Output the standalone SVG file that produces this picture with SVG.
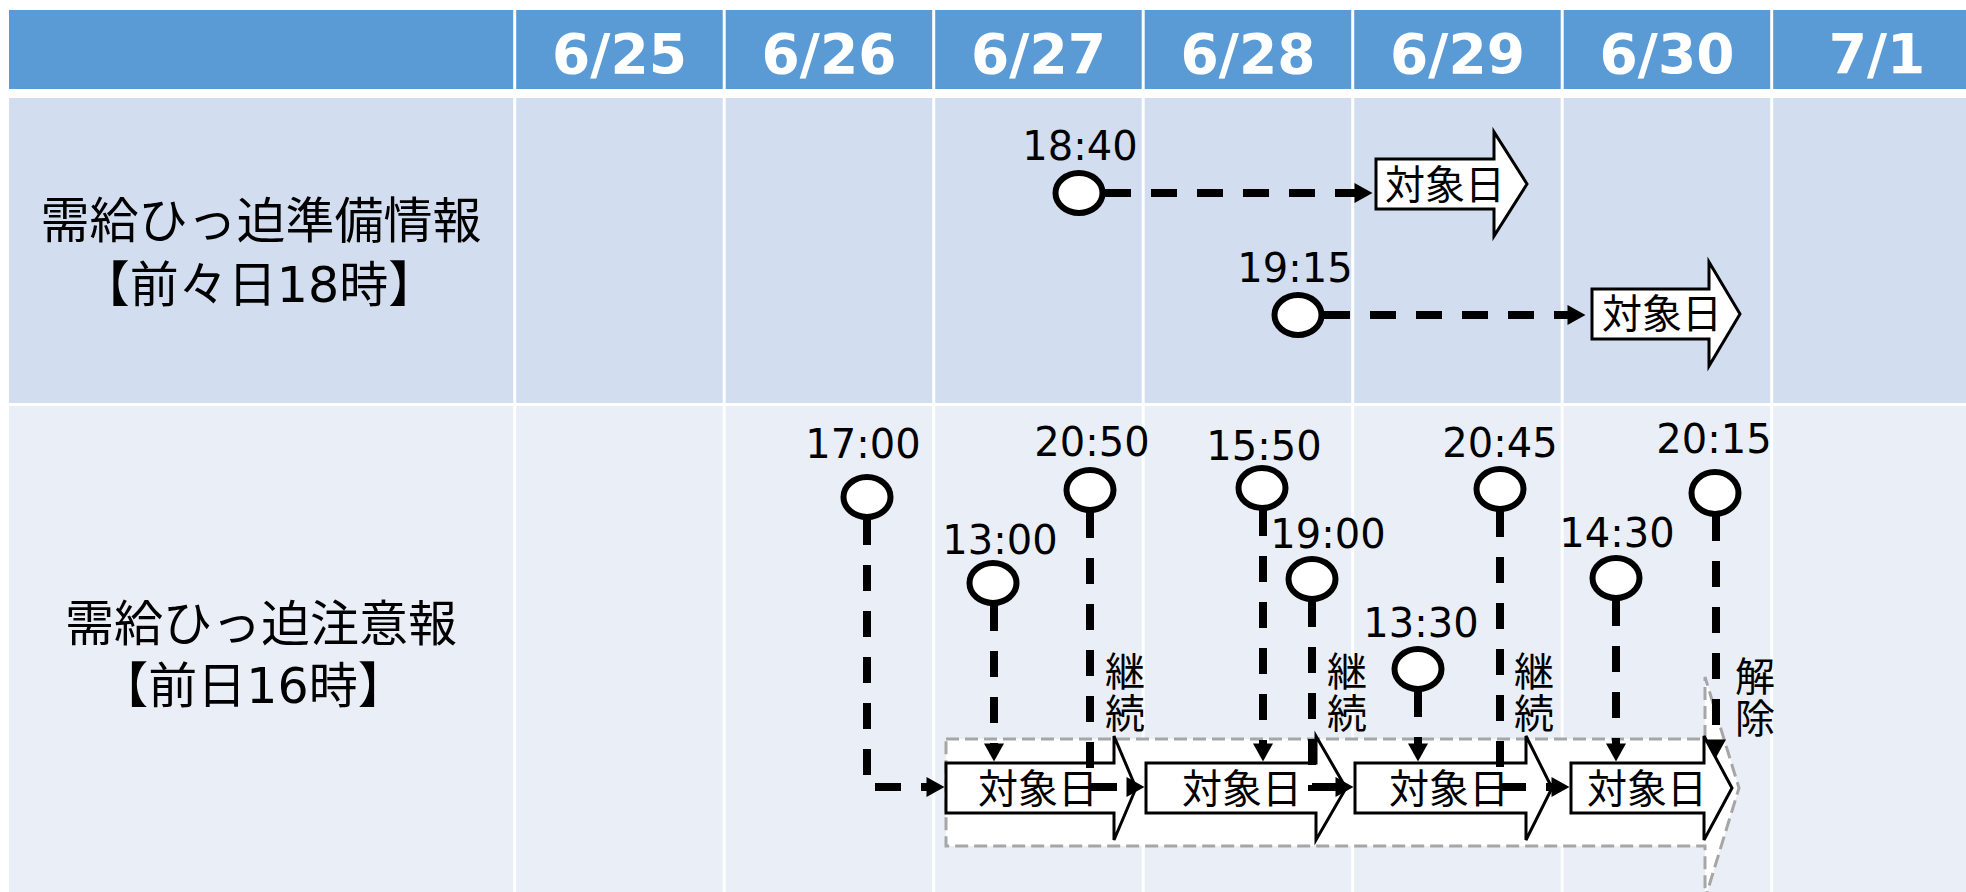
<svg xmlns="http://www.w3.org/2000/svg" width="1966" height="892" viewBox="0 0 1966 892">
<style>
.hd{font-family:"DejaVu Sans","Noto Sans CJK JP",sans-serif;font-weight:bold;font-size:55px;fill:#fff;text-anchor:middle}
.lbl{font-family:"DejaVu Sans","Noto Sans CJK JP",sans-serif;font-size:49px;fill:#000;text-anchor:middle}
.tm{font-family:"DejaVu Sans","Noto Sans CJK JP",sans-serif;font-size:40px;fill:#000;text-anchor:middle}
.vt{font-family:"Noto Sans CJK JP",sans-serif;font-size:40px;fill:#000;writing-mode:vertical-rl;letter-spacing:2px}
.blk polygon{fill:#fff;stroke:#000;stroke-width:3;stroke-linejoin:miter}
.blk text{font-family:"Noto Sans CJK JP",sans-serif;font-size:40px;fill:#000;text-anchor:middle}
.ev ellipse{fill:#fff;stroke:#000;stroke-width:6}
.conn path{fill:none;stroke:#000;stroke-width:8;stroke-dasharray:26 20}
#grid line{stroke:#fff;stroke-width:3}
</style>
<defs>
<marker id="ah" markerUnits="userSpaceOnUse" markerWidth="20" markerHeight="22" refX="0.5" refY="10" orient="auto" overflow="visible">
<path d="M0,0 L18,10 L0,20 Z" fill="#000"/>
</marker>
</defs>

<g id="grid">
<rect x="9" y="10" width="1957" height="79" fill="#5B9BD5"/>
<rect x="9" y="98" width="1957" height="305" fill="#D2DEEF"/>
<rect x="9" y="406" width="1957" height="486" fill="#EAEFF7"/>
<line x1="514.7" y1="10" x2="514.7" y2="892"/>
<line x1="724.2" y1="10" x2="724.2" y2="892"/>
<line x1="933.7" y1="10" x2="933.7" y2="892"/>
<line x1="1143.2" y1="10" x2="1143.2" y2="892"/>
<line x1="1352.7" y1="10" x2="1352.7" y2="892"/>
<line x1="1562.2" y1="10" x2="1562.2" y2="892"/>
<line x1="1771.7" y1="10" x2="1771.7" y2="892"/>
</g>

<g id="header">
<text class="hd" x="619.5" y="73">6/25</text>
<text class="hd" x="829" y="73">6/26</text>
<text class="hd" x="1038.5" y="73">6/27</text>
<text class="hd" x="1248" y="73">6/28</text>
<text class="hd" x="1457.5" y="73">6/29</text>
<text class="hd" x="1667" y="73">6/30</text>
<text class="hd" x="1877" y="73">7/1</text>
</g>

<g id="row-labels">
<text class="lbl" x="261" y="238">需給ひっ迫準備情報</text>
<text class="lbl" x="259" y="302">【前々日18時】</text>
<text class="lbl" x="261" y="641">需給ひっ迫注意報</text>
<text class="lbl" x="253" y="703">【前日16時】</text>
</g>

<g id="period">
<path d="M946,739 H1705 V677 L1739,788 L1705,899 V846 H946 Z" fill="#fff" stroke="#A6A6A6" stroke-width="3" stroke-dasharray="13 6"/>
</g>

<g id="target-r1a" class="blk">
<polygon points="1376,159 1494,159 1494,132 1527,184 1494,236 1494,209 1376,209"/>
<text x="1445" y="199">対象日</text>
</g>
<g id="target-r1b" class="blk">
<polygon points="1592,289 1709,289 1709,262 1740,314 1709,366 1709,339 1592,339"/>
<text x="1662" y="328">対象日</text>
</g>
<g id="target-627" class="blk">
<polygon points="946,763 1114,763 1114,736 1136,788 1114,840 1114,813 946,813"/>
<text x="1038" y="803">対象日</text>
</g>
<g id="target-628" class="blk">
<polygon points="1146,763 1316,763 1316,736 1346,788 1316,840 1316,813 1146,813"/>
<text x="1242" y="803">対象日</text>
</g>
<g id="target-629" class="blk">
<polygon points="1355,763 1526,763 1526,736 1552,788 1526,840 1526,813 1355,813"/>
<text x="1449" y="803">対象日</text>
</g>
<g id="target-630" class="blk">
<polygon points="1571,763 1704,763 1704,736 1732,788 1704,840 1704,813 1571,813"/>
<text x="1647" y="803">対象日</text>
</g>

<g id="connectors" class="conn">
<path d="M1105,193 H1355" marker-end="url(#ah)"/>
<path d="M1324,315 H1568" marker-end="url(#ah)"/>
<path d="M867,519 V787 H927" marker-end="url(#ah)"/>
<path d="M994,605 V744" marker-end="url(#ah)"/>
<path d="M1090,512 V787 H1127" marker-end="url(#ah)"/>
<path d="M1263,510 V744" marker-end="url(#ah)"/>
<path d="M1312,601 V787 H1336" marker-end="url(#ah)"/>
<path d="M1418,691 V744" marker-end="url(#ah)"/>
<path d="M1500,511 V787 H1552" marker-end="url(#ah)"/>
<path d="M1616,600 V744" marker-end="url(#ah)"/>
<path d="M1716,515 V740" marker-end="url(#ah)"/>
</g>

<g id="ev-1840" class="ev"><text class="tm" x="1080" y="160">18:40</text><ellipse cx="1079" cy="193" rx="23.5" ry="20"/></g>
<g id="ev-1915" class="ev"><text class="tm" x="1295" y="282">19:15</text><ellipse cx="1298" cy="315" rx="23.5" ry="20"/></g>
<g id="ev-1700" class="ev"><text class="tm" x="863" y="458">17:00</text><ellipse cx="867" cy="497" rx="23.5" ry="20"/></g>
<g id="ev-1300" class="ev"><text class="tm" x="1000" y="554">13:00</text><ellipse cx="993" cy="583" rx="23.5" ry="20"/></g>
<g id="ev-2050" class="ev"><text class="tm" x="1092" y="456">20:50</text><ellipse cx="1090" cy="490" rx="23.5" ry="20"/></g>
<g id="ev-1550" class="ev"><text class="tm" x="1264" y="460">15:50</text><ellipse cx="1262" cy="488" rx="23.5" ry="20"/></g>
<g id="ev-1900" class="ev"><text class="tm" x="1328" y="548">19:00</text><ellipse cx="1312" cy="579" rx="23.5" ry="20"/></g>
<g id="ev-1330" class="ev"><text class="tm" x="1421" y="637">13:30</text><ellipse cx="1418" cy="669" rx="23.5" ry="20"/></g>
<g id="ev-2045" class="ev"><text class="tm" x="1500" y="457">20:45</text><ellipse cx="1500" cy="489" rx="23.5" ry="20"/></g>
<g id="ev-1430" class="ev"><text class="tm" x="1617" y="547">14:30</text><ellipse cx="1616" cy="578" rx="23.5" ry="20"/></g>
<g id="ev-2015" class="ev"><text class="tm" x="1714" y="453">20:15</text><ellipse cx="1715" cy="493" rx="23.5" ry="21"/></g>

<g id="notes">
<text class="vt" x="1125" y="651">継続</text>
<text class="vt" x="1347" y="651">継続</text>
<text class="vt" x="1534" y="651">継続</text>
<text class="vt" x="1755" y="656">解除</text>
</g>
</svg>
